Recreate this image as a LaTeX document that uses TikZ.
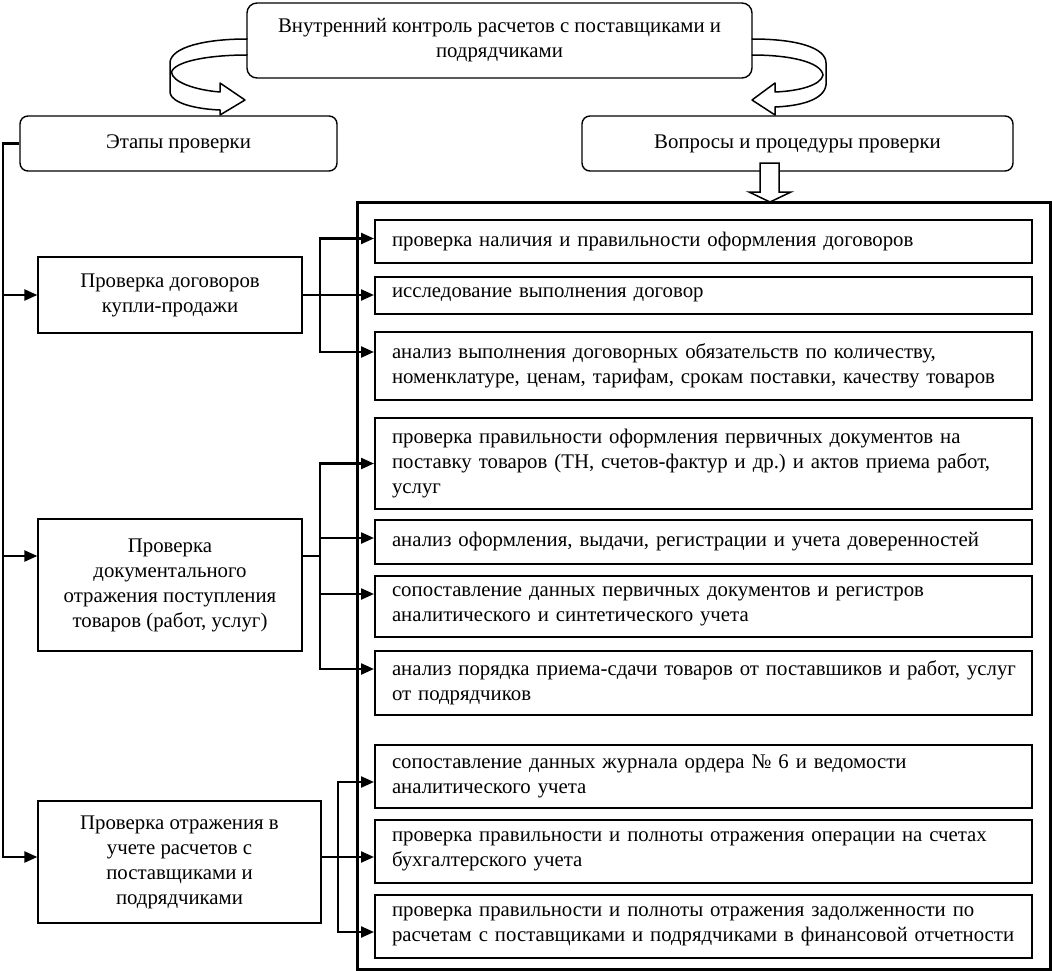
\documentclass[tikz,border=0pt]{standalone}
\usepackage{fontspec}
\setmainfont{Liberation Serif}
\usetikzlibrary{arrows.meta}
\begin{document}
\begin{tikzpicture}[x=1pt,y=-1pt,
  font=\fontsize{20.8}{25}\selectfont\frenchspacing,
  rbox/.style={draw, line width=1.4pt, align=center, inner sep=0pt},
  lbox/.style={draw, line width=1.3pt, align=center, inner sep=0pt, minimum width=264pt},
  qbox/.style={draw, line width=2pt, align=left, inner xsep=17pt, inner ysep=0pt, text width=623pt, minimum width=657pt},
  frame/.style={draw, line width=3pt, inner sep=0pt},
  conn/.style={line width=2.3pt},
  arr/.style={line width=2.3pt, -{Triangle[length=13pt,width=11pt]}},
  ribbon/.style={line width=1.5pt, line join=round, line cap=round},
  hollow/.style={draw, line width=1.5pt, fill=white, line join=miter}
]
\useasboundingbox (0,0) rectangle (1052,971);

% top level
\node[rbox, rounded corners=10pt, minimum width=505pt, minimum height=75pt] (top) at (499.5,40.5)
  {Внутренний контроль расчетов с поставщиками и\\подрядчиками};
\node[rbox, rounded corners=8pt, minimum width=317pt, minimum height=55pt] (etapy) at (178.5,143.5) {Этапы проверки};
\node[rbox, rounded corners=8pt, minimum width=431pt, minimum height=55pt] (vopr) at (797.5,143.5) {Вопросы и процедуры проверки};

% curved ribbon arrows
\draw[ribbon] (247,39) .. controls (205,39) and (172,47) .. (170,62) -- (170,93)
  .. controls (172,103) and (195,109) .. (220,110) -- (220,115) -- (245,100) -- (220,83) -- (220,92)
  .. controls (195,90) and (172,82) .. (171.5,72);
\draw[ribbon] (247,55) .. controls (210,55) and (175,61) .. (171.5,72);

\draw[ribbon] (752,39) .. controls (798,39) and (826,48) .. (826,63) -- (826,85)
  .. controls (824,100) and (800,106) .. (775,107) -- (775,115) -- (752,100) -- (775,83) -- (775,92)
  .. controls (800,91) and (821,85) .. (823,75);
\draw[ribbon] (752,55) .. controls (790,55) and (821,62) .. (823,75);

% frame and hollow arrow
\node[frame, minimum width=693pt, minimum height=767pt] (frame) at (703.5,585.5) {};
\draw[hollow] (760,163) -- (760,192) -- (749,192) -- (770,202) -- (791,192) -- (779,192) -- (779,163) -- cycle;

% stage boxes
\node[lbox, minimum height=76pt] (L1) at (170,295) {Проверка договоров\\купли-продажи};
\node[lbox, minimum height=132pt] (L2) at (170,585) {Проверка\\документального\\отражения поступления\\товаров (работ, услуг)};
\node[lbox, minimum width=283pt, minimum height=122pt] (L3) at (179.5,862) {Проверка отражения в\\учете расчетов с\\поставщиками и\\подрядчиками};

% question boxes
\node[qbox, minimum height=43pt] (b1) at (703.5,241.5) {\mbox{проверка наличия и правильности оформления договоров}};
\node[qbox, minimum height=37pt] (b2) at (703.5,295) {\mbox{исследование выполнения договор}};
\node[qbox, minimum height=68pt] (b3) at (703.5,366) {\mbox{анализ выполнения договорных обязательств по количеству,}\\\mbox{номенклатуре, ценам, тарифам, срокам поставки, качеству товаров}};
\node[qbox, minimum height=91pt] (b4) at (703.5,463.5) {\mbox{проверка правильности оформления первичных документов на}\\\mbox{поставку товаров (ТН, счетов-фактур и др.) и актов приема работ,}\\услуг};
\node[qbox, minimum height=44pt] (b5) at (703.5,542) {\mbox{анализ оформления, выдачи, регистрации и учета доверенностей}};
\node[qbox, minimum height=61pt] (b6) at (703.5,606.5) {\mbox{сопоставление данных первичных документов и регистров}\\\mbox{аналитического и синтетического учета}};
\node[qbox, minimum height=64pt] (b7) at (703.5,683) {\mbox{анализ порядка приема-сдачи товаров от поставшиков и работ, услуг}\\\mbox{от подрядчиков}};
\node[qbox, minimum height=63pt] (b8) at (703.5,776.5) {\mbox{сопоставление данных журнала ордера № 6 и ведомости}\\\mbox{аналитического учета}};
\node[qbox, minimum height=63pt] (b9) at (703.5,851.5) {\mbox{проверка правильности и полноты отражения операции на счетах}\\\mbox{бухгалтерского учета}};
\node[qbox, minimum height=63pt] (b10) at (703.5,926.5) {\mbox{проверка правильности и полноты отражения задолженности по}\\\mbox{расчетам с поставщиками и подрядчиками в финансовой отчетности}};

% left spine
\coordinate (s0) at (3,143.5);
\coordinate (s1) at (3,295);
\coordinate (s2) at (3,556);
\coordinate (s3) at (3,857);
\draw[arr] (etapy.west) -- (s0) -- (s3) -- (s3 -| L3.west);
\draw[arr] (s1) -- (L1.west);
\draw[arr] (s2) -- (s2 -| L2.west);

% branch 1
\coordinate (j1) at (320,295);
\draw[arr] (L1.east) -- (b2.west);
\draw[arr] (j1) |- ([yshift=3pt]b1.west);
\draw[arr] (j1) |- ([yshift=14pt]b3.west);

% branch 2
\coordinate (j2) at (320,556);
\draw[conn] (j2 -| L2.east) -- (j2);
\draw[arr] (j2) |- (b4.west);
\draw[arr] (j2) |- ([yshift=4pt]b5.west);
\draw[arr] (j2) |- ([yshift=12.5pt]b6.west);
\draw[arr] (j2) |- ([yshift=14pt]b7.west);

% branch 3
\coordinate (j3) at (338,857);
\draw[conn] (j3 -| L3.east) -- (j3);
\draw[arr] (j3) |- ([yshift=-5.5pt]b8.west);
\draw[arr] (j3) -- (j3 -| b9.west);
\draw[arr] (j3) |- ([yshift=-5.5pt]b10.west);
\end{tikzpicture}
\end{document}
